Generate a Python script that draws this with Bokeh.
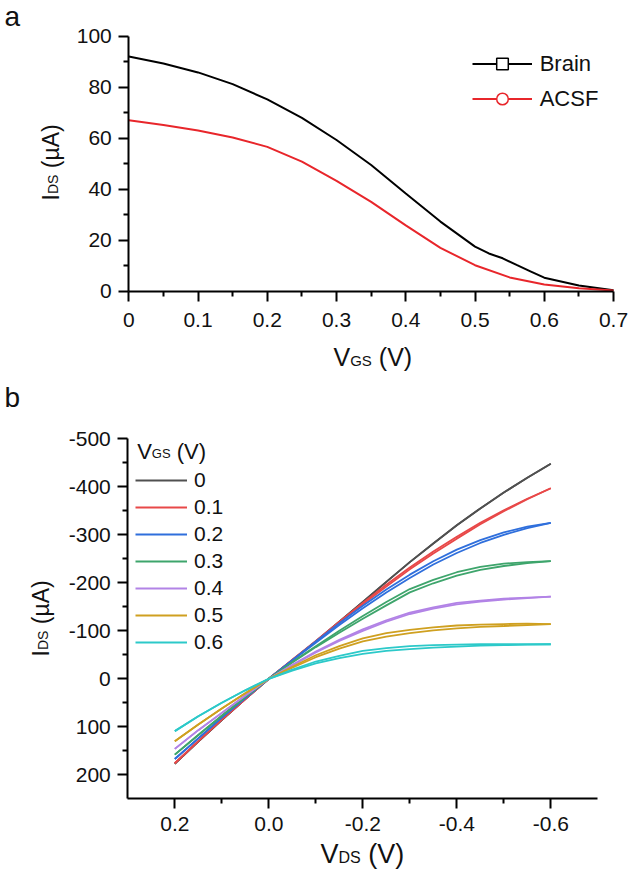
import math
from bokeh.plotting import figure
from bokeh.models import (Range1d, FixedTicker, Label, Legend, LegendItem, CustomJSTickFormatter,
                          LinearAxis, ColumnDataSource)
from bokeh.layouts import column
from bokeh.embed import file_html
from bokeh.resources import INLINE

# ---------------- data: panel a (transfer curves) ----------------
brain_vgs = [0, 0.05, 0.1, 0.15, 0.2, 0.25, 0.3, 0.35, 0.4, 0.45, 0.5, 0.52, 0.54, 0.56, 0.58, 0.6, 0.65, 0.7]
brain_ids = [92.0, 89.3, 85.8, 81.2, 75.2, 68.0, 59.3, 49.5, 38.3, 27.3, 17.5, 14.8, 12.9, 10.3, 7.8, 5.3, 2.2, 0.4]
acsf_vgs = [0, 0.05, 0.1, 0.15, 0.2, 0.25, 0.3, 0.35, 0.4, 0.45, 0.5, 0.55, 0.6, 0.65, 0.7]
acsf_ids = [67.0, 65.2, 63.0, 60.3, 56.6, 50.8, 43.3, 35.0, 25.8, 17.0, 10.2, 5.4, 2.6, 1.2, 0.3]
a_xticks = [0, 0.1, 0.2, 0.3, 0.4, 0.5, 0.6, 0.7]
a_xminor = [0.05, 0.15, 0.25, 0.35, 0.45, 0.55, 0.65]
a_yticks = [0, 20, 40, 60, 80, 100]
a_yminor = [10, 30, 50, 70, 90]
a_xlim = (0, 0.7)
a_ylim = (0, 100)

# ---------------- data: panel b (output curves, forward / return sweep) ----------------
vds = [0.2, 0.15, 0.1, 0.05, 0.0, -0.05, -0.1, -0.15, -0.2, -0.25, -0.3, -0.35, -0.4, -0.45, -0.5, -0.55, -0.6]
vgs_labels = ["0", "0.1", "0.2", "0.3", "0.4", "0.5", "0.6"]
ids_fwd_0 = [177, 131, 86, 42, 0, -39, -78, -119, -160, -202, -243, -282, -320, -355, -388, -419, -448]
ids_fwd_1 = [176, 130, 85, 42, 0, -39, -77, -116, -155, -192, -228, -261, -292, -322, -349, -374, -397]
ids_fwd_2 = [167, 124, 81, 40, 0, -38, -75, -112, -147, -180, -210, -238, -262, -283, -300, -314, -325]
ids_fwd_3 = [158, 117, 77, 38, 0, -34, -66, -96, -125, -153, -180, -199, -215, -227, -235, -241, -245]
ids_fwd_4 = [146, 107, 71, 35, 0, -28, -55, -79, -100, -119, -135, -146, -155, -161, -165, -168, -171]
ids_fwd_5 = [130, 95, 62, 30, 0, -23, -45, -63, -78, -88, -95, -101, -105, -108, -110, -112, -114]
ids_fwd_6 = [109, 78, 50, 24, 0, -17, -32, -43, -52, -58, -62, -65, -67, -69, -70, -71, -72]
ids_rev_0 = [177, 131, 86, 42, 0, -39, -78, -119, -160, -202, -243, -282, -320, -355, -388, -419, -448]
ids_rev_1 = [176, 130, 85, 42, 0, -40, -79, -119, -158, -196, -232, -265, -296, -325, -351, -375, -397]
ids_rev_2 = [167, 124, 81, 40, 0, -39, -78, -116, -152, -186, -217, -245, -269, -289, -305, -317, -325]
ids_rev_3 = [158, 117, 77, 38, 0, -35, -68, -100, -131, -160, -187, -206, -222, -233, -240, -243, -245]
ids_rev_4 = [146, 107, 71, 35, 0, -29, -57, -81, -103, -122, -138, -149, -158, -163, -167, -169, -171]
ids_rev_5 = [130, 95, 62, 30, 0, -25, -49, -68, -84, -95, -102, -107, -111, -113, -114, -115, -114]
ids_rev_6 = [109, 78, 50, 24, 0, -19, -36, -48, -58, -64, -68, -70, -71, -72, -72, -72, -72]
b_xticks = [0.2, 0.0, -0.2, -0.4, -0.6]
b_xminor = [0.1, -0.1, -0.3, -0.5]
b_yticks = [-500, -400, -300, -200, -100, 0, 100, 200]
b_yminor = [-450, -350, -250, -150, -50, 50, 150]
b_xlim = (0.3, -0.7)      # left, right
b_ylim = (250, -500)      # bottom, top

fwd = [ids_fwd_0, ids_fwd_1, ids_fwd_2, ids_fwd_3, ids_fwd_4, ids_fwd_5, ids_fwd_6]
rev = [ids_rev_0, ids_rev_1, ids_rev_2, ids_rev_3, ids_rev_4, ids_rev_5, ids_rev_6]
b_colors = ["#505050", "#e84848", "#2f6fdc", "#3ea56c", "#b283e6", "#cfa020", "#2cc9c9"]

# ---------------- layout constants (pixels) ----------------
FW = 630
HA, HB = 376, 496
A_PX = dict(left=128.3, right=613.0, top=35.7, bottom=290.7)   # frame of panel a in its figure
B_PX = dict(left=127.3, right=597.3, top=62.3, bottom=422.3)   # frame of panel b in its figure
TFIX = 7   # baseline correction of text labels (px, towards the top of the glyphs)

FONT = "Liberation Sans"
W = {'V': 0.667, 'G': 0.778, 'S': 0.667, 'D': 0.722, 'I': 0.278, ' ': 0.278,
     '(': 0.333, ')': 0.333, 'µ': 0.576, 'A': 0.667}


def tw(s, size):
    return sum(W.get(c, 0.556) for c in s) * size


def ranges(px, H, xlim, ylim):
    kx = (xlim[1] - xlim[0]) / (px["right"] - px["left"])
    ky = (ylim[1] - ylim[0]) / (px["bottom"] - px["top"])
    x0 = xlim[0] - px["left"] * kx
    x1 = xlim[1] + (FW - px["right"]) * kx
    y0 = ylim[0] - (H - px["bottom"]) * ky
    y1 = ylim[1] + px["top"] * ky
    return Range1d(x0, x1), Range1d(y0, y1)


def txt(p, x, y, text, size, angle=0.0):
    if angle == 0.0:
        y = y + TFIX
    else:
        x = x - TFIX
    p.add_layout(Label(x=x, y=y, x_units="screen", y_units="screen", text=text,
                       text_font=FONT, text_font_size=f"{size}px", angle=angle,
                       text_align="left", text_baseline="alphabetic", text_color="#111111"))


def sub_label(p, x, y, main, sub, rest, size, ssize, drop, vertical=False):
    sp = tw(" ", size)
    if not vertical:
        txt(p, x, y, main, size)
        x2 = x + tw(main, size)
        txt(p, x2, y - drop, sub, ssize)
        x3 = x2 + tw(sub, ssize) + sp
        txt(p, x3, y, rest, size)
    else:
        a = math.pi / 2
        txt(p, x, y, main, size, a)
        y2 = y + tw(main, size)
        txt(p, x + drop, y2, sub, ssize, a)
        y3 = y2 + tw(sub, ssize) + sp
        txt(p, x, y3, rest, size, a)


def make_axis(loc, bounds, ticks, minor, code, standoff):
    ax = LinearAxis(fixed_location=loc, bounds=bounds,
                    ticker=FixedTicker(ticks=ticks, minor_ticks=minor),
                    formatter=CustomJSTickFormatter(code=code))
    ax.axis_line_width = 2
    ax.axis_line_color = "black"
    ax.major_tick_line_width = 2
    ax.minor_tick_line_width = 2
    ax.major_tick_line_color = "black"
    ax.minor_tick_line_color = "black"
    ax.major_tick_out = 10
    ax.major_tick_in = 0
    ax.minor_tick_out = 5
    ax.minor_tick_in = 0
    ax.major_label_text_font = FONT
    ax.major_label_text_font_size = "21px"
    ax.major_label_text_color = "#111111"
    ax.major_label_standoff = standoff
    return ax


def base_fig(H, xr, yr):
    p = figure(width=FW, height=H, output_backend="svg", toolbar_location=None,
               x_range=xr, y_range=yr, x_axis_location=None, y_axis_location=None,
               min_border_left=0, min_border_right=0, min_border_top=0, min_border_bottom=0)
    p.outline_line_color = None
    p.grid.visible = False
    p.background_fill_color = "white"
    return p


# ---------------- panel a ----------------
xr_a, yr_a = ranges(A_PX, HA, a_xlim, a_ylim)
fa = base_fig(HA, xr_a, yr_a)
fa.add_layout(make_axis(a_ylim[0], a_xlim, a_xticks, a_xminor,
                        "return Math.abs(tick) < 1e-9 ? '0' : tick.toFixed(1);", 12), "below")
fa.add_layout(make_axis(a_xlim[0], a_ylim, a_yticks, a_yminor,
                        "return Math.round(tick).toString();", 7), "left")

src_brain = ColumnDataSource(dict(x=brain_vgs, y=brain_ids))
src_acsf = ColumnDataSource(dict(x=acsf_vgs, y=acsf_ids))
r_brain = fa.line("x", "y", source=src_brain, line_color="black", line_width=2)
r_acsf = fa.line("x", "y", source=src_acsf, line_color="#e8262b", line_width=2)
# marker renderers used only for the legend symbols (hidden on the plot)
m_brain = fa.scatter("x", "y", source=src_brain, marker="square", size=8, line_color="black",
                     fill_color="white", line_width=1.5, visible=False)
m_acsf = fa.scatter("x", "y", source=src_acsf, marker="circle", size=10, line_color="#e8262b",
                    fill_color="white", line_width=1.5, visible=False)

leg_a = Legend(items=[LegendItem(label="Brain", renderers=[r_brain, m_brain]),
                      LegendItem(label="ACSF", renderers=[r_acsf, m_acsf])],
               location=(471.7, 262.7), padding=0, margin=0, spacing=6,
               glyph_width=60, glyph_height=29, label_height=29, label_standoff=8,
               label_text_font=FONT, label_text_font_size="22px", label_text_color="#111111",
               background_fill_alpha=0, border_line_alpha=0, click_policy="none")
fa.add_layout(leg_a, "center")

txt(fa, 4, HA - 23, "a", 28)
sub_label(fa, 333, HA - 363, "V", "GS", "(V)", 25, 15, 4)
sub_label(fa, 57, HA - 200, "I", "DS", "(µA)", 23, 14, 2, vertical=True)

# ---------------- panel b ----------------
xr_b, yr_b = ranges(B_PX, HB, b_xlim, b_ylim)
fb = base_fig(HB, xr_b, yr_b)
fb.add_layout(make_axis(b_ylim[0], (min(b_xlim), max(b_xlim)), b_xticks, b_xminor,
                        "return tick.toFixed(1);", 8), "below")
fb.add_layout(make_axis(b_xlim[0], (min(b_ylim), max(b_ylim)), b_yticks, b_yminor,
                        "return Math.round(tick).toString();", 7), "left")

items_b = []
for lbl, yf, yr, col in zip(vgs_labels, fwd, rev, b_colors):
    fb.line(vds, yr, line_color=col, line_width=1.8)
    rf = fb.line(vds, yf, line_color=col, line_width=1.8)
    items_b.append(LegendItem(label=lbl, renderers=[rf]))

leg_b = Legend(items=items_b, location=(135, 218), padding=0, margin=0, spacing=3,
               glyph_width=52, glyph_height=24, label_height=24, label_standoff=7,
               label_text_font=FONT, label_text_font_size="21px", label_text_color="#111111",
               background_fill_alpha=0, border_line_alpha=0)
fb.add_layout(leg_b, "center")

YB = 376 + HB   # picture y of the bottom of panel b
txt(fb, 4, YB - 403.7, "b", 28)
sub_label(fb, 136.7, YB - 458.3, "V", "GS", "(V)", 22, 13, 2)
sub_label(fb, 320, YB - 860, "V", "DS", "(V)", 27, 16, 4)
sub_label(fb, 47, YB - 656, "I", "DS", "(µA)", 23, 14, 2, vertical=True)

layout = column(fa, fb, spacing=0)
open("out.html", "w").write(file_html(layout, INLINE))
